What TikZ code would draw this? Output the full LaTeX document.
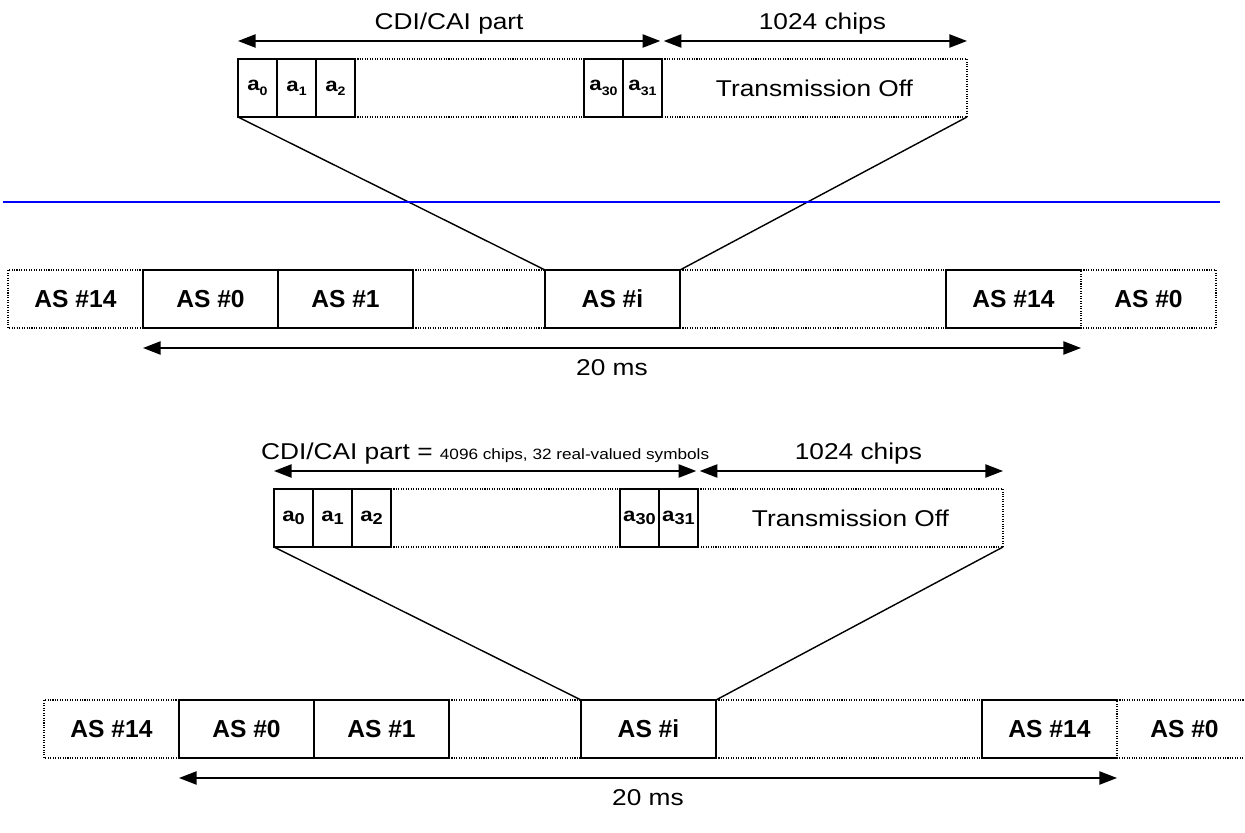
\documentclass[tikz,border=0pt]{standalone}
\usepackage{fontspec}
\setmainfont{Liberation Sans}[FakeStretch=1.15]
\newfontfamily\boxfont{Liberation Sans}
\usetikzlibrary{arrows.meta, positioning}
\definecolor{cSep}{HTML}{0000FF}
\newcommand{\subtop}[1]{\raisebox{-2.5pt}{\fontsize{7}{7}\selectfont #1}}
\newcommand{\subbot}[1]{\raisebox{-1.5pt}{\fontsize{9}{9}\selectfont #1}}
\tikzset{
  slotbox/.style={
    draw, line width=1pt, minimum width=0.78cm, minimum height=1.16cm,
    inner sep=0pt, outer sep=0pt, font=\fontsize{11}{12}\selectfont\bfseries,
  },
  asbox/.style={
    draw, line width=1pt, minimum width=2.7cm, minimum height=1.16cm,
    inner sep=0pt, outer sep=0pt, font=\boxfont\fontsize{14}{16}\selectfont\bfseries,
  },
  offbox/.style={
    minimum width=6.1cm, minimum height=1.16cm,
    inner sep=0pt, outer sep=0pt, font=\fontsize{13}{15}\selectfont,
  },
  solidline/.style={line width=1pt},
  dotline/.style={line width=0.65pt, dash pattern=on 0.6pt off 0.8pt},
  dimarw/.style={<->, >={Triangle[length=10pt,width=7.5pt]}, line width=0.9pt},
  fanline/.style={line width=0.8pt},
  lbl/.style={font=\fontsize{13}{15}\selectfont},
}
\begin{document}
\begin{tikzpicture}

  \useasboundingbox (0,0) rectangle (24.9,-16.66);

  % ---- upper frame ----
  \node[slotbox] (a0) at (5.15,-1.76) {a\subtop{0}};
  \node[slotbox, right=0pt of a0] (a1) {a\subtop{1}};
  \node[slotbox, right=0pt of a1] (a2) {a\subtop{2}};
  \node[slotbox] (a30) at (12.07,-1.76) {a\subtop{30}};
  \node[slotbox, right=0pt of a30] (a31) {a\subtop{31}};
  \node[offbox] (off) at (16.29,-1.76) {Transmission Off};

  \draw[dotline] (a2.north east) -- (a30.north west);
  \draw[dotline] (a2.south east) -- (a30.south west);
  \draw[dotline] (a31.north east) -- (off.north east) -- (off.south east) -- (a31.south east);

  \draw[dimarw] ([yshift=0.36cm]a0.north west) --
    node[lbl, above=0pt] (cdilbl) {CDI/CAI part} ([yshift=0.36cm, xshift=-1pt]a31.north east);
  \draw[dimarw] ([yshift=0.36cm, xshift=1pt]off.north west) --
    node[lbl, above=0pt, xshift=4pt] (chiplbl) {1024 chips} ([yshift=0.36cm]off.north east);

  \node[asbox, draw=none] (l14) at (1.51,-5.98) {AS \#14};
  \node[asbox, right=0pt of l14] (as0) {AS \#0};
  \node[asbox, right=0pt of as0] (as1) {AS \#1};
  \node[asbox] (asi) at (12.25,-5.98) {AS \#i};
  \node[asbox, draw=none] (r14) at (20.27,-5.98) {AS \#14};
  \node[asbox, draw=none, right=0pt of r14] (r0) {AS \#0};

  \draw[dotline] (as0.north west) -- (l14.north west) -- (l14.south west) -- (as0.south west);
  \draw[dotline] (as1.north east) -- (asi.north west);
  \draw[dotline] (as1.south east) -- (asi.south west);
  \draw[dotline] (asi.north east) -- (r14.north west);
  \draw[dotline] (asi.south east) -- (r14.south west);
  \draw[dotline] (r14.north east) -- (r0.north east) -- (r0.south east) -- (r14.south east) -- cycle;
  \draw[solidline] (r14.north east) -- (r14.north west) -- (r14.south west) -- (r14.south east);

  \draw[fanline] (a0.south west) -- (asi.north west);
  \draw[fanline] (off.south east) -- (asi.north east);

  \draw[dimarw] ([yshift=-0.4cm]as0.south west) --
    node[lbl, below=3pt] (mslbl) {20 ms} ([yshift=-0.4cm]r14.south east);

  % separator
  \coordinate (sepL) at (0.06,-4.04);
  \coordinate (sepR) at (24.40,-4.04);
  \draw[cSep, line width=1.2pt] (sepL) -- (sepR);

  % ---- lower frame ----
  \begin{scope}[shift={(0.72,-8.6)}]
    \node[slotbox] (b0) at (5.15,-1.76) {a\subbot{0}};
    \node[slotbox, right=0pt of b0] (b1) {a\subbot{1}};
    \node[slotbox, right=0pt of b1] (b2) {a\subbot{2}};
    \node[slotbox] (b30) at (12.07,-1.76) {a\subbot{30}};
    \node[slotbox, right=0pt of b30] (b31) {a\subbot{31}};
    \node[offbox] (offB) at (16.29,-1.76) {Transmission Off};

    \draw[dotline] (b2.north east) -- (b30.north west);
    \draw[dotline] (b2.south east) -- (b30.south west);
    \draw[dotline] (b31.north east) -- (offB.north east) -- (offB.south east) -- (b31.south east);

    \draw[dimarw] ([yshift=0.36cm]b0.north west) --
      node[lbl, above=0pt] (cdilblB) {CDI/CAI part = {\fontsize{8.5}{10}\selectfont 4096 chips, 32 real-valued symbols}}
      ([yshift=0.36cm, xshift=-1pt]b31.north east);
    \draw[dimarw] ([yshift=0.36cm, xshift=1pt]offB.north west) --
      node[lbl, above=0pt, xshift=4pt] (chiplblB) {1024 chips} ([yshift=0.36cm]offB.north east);

    \node[asbox, draw=none] (l14B) at (1.51,-5.98) {AS \#14};
    \node[asbox, right=0pt of l14B] (as0B) {AS \#0};
    \node[asbox, right=0pt of as0B] (as1B) {AS \#1};
    \node[asbox] (asiB) at (12.25,-5.98) {AS \#i};
    \node[asbox, draw=none] (r14B) at (20.27,-5.98) {AS \#14};
    \node[asbox, draw=none, right=0pt of r14B] (r0B) {AS \#0};

    \draw[dotline] (as0B.north west) -- (l14B.north west) -- (l14B.south west) -- (as0B.south west);
    \draw[dotline] (as1B.north east) -- (asiB.north west);
    \draw[dotline] (as1B.south east) -- (asiB.south west);
    \draw[dotline] (asiB.north east) -- (r14B.north west);
    \draw[dotline] (asiB.south east) -- (r14B.south west);
    \draw[dotline] (r14B.north east) -- (r0B.north east) -- (r0B.south east) -- (r14B.south east) -- cycle;
    \draw[solidline] (r14B.north east) -- (r14B.north west) -- (r14B.south west) -- (r14B.south east);

    \draw[fanline] (b0.south west) -- (asiB.north west);
    \draw[fanline] (offB.south east) -- (asiB.north east);

    \draw[dimarw] ([yshift=-0.4cm]as0B.south west) --
      node[lbl, below=3pt] (mslblB) {20 ms} ([yshift=-0.4cm]r14B.south east);
  \end{scope}

\end{tikzpicture}
\end{document}
